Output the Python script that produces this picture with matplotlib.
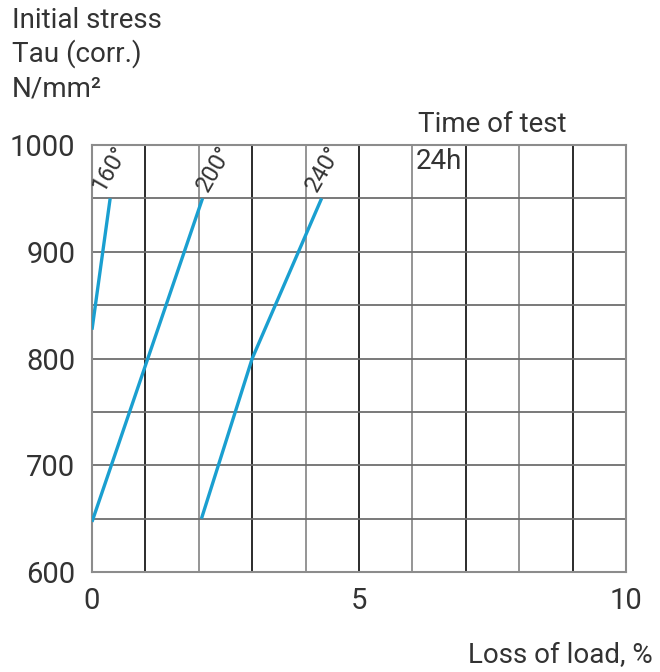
import matplotlib
matplotlib.use("Agg")
import matplotlib.pyplot as plt

plt.rcParams['font.family'] = ['Roboto', 'DejaVu Sans']

# Data
x_160 = [0.0, 0.34]
y_160 = [827, 950]
x_200 = [0.0, 2.07]
y_200 = [647, 950]
x_240 = [2.05, 3.0, 4.3]
y_240 = [650, 800, 950]
series = [("160°", x_160, y_160), ("200°", x_200, y_200), ("240°", x_240, y_240)]
label_pos = {"160°": (0.2, 955), "200°": (2.17, 955), "240°": (4.21, 955)}

x_ticks = [0, 5, 10]
y_ticks = [600, 700, 800, 900, 1000]

TXT = '#333333'
BLUE = '#1a9fd0'

fig = plt.figure(figsize=(6.6, 6.72), dpi=100)
ax = fig.add_axes([0.1394, 0.1488, 0.809, 0.6354])
ax.set_xlim(0, 10)
ax.set_ylim(600, 1000)

# grid
for xv in range(1, 10):
    col = '#1a1a1a' if xv % 2 == 1 else '#8c8c8c'
    ax.axvline(xv, color=col, lw=1.3, zorder=1)
for yv in range(650, 1000, 50):
    ax.axhline(yv, color='#6e6e6e', lw=1.3, zorder=1)
for s in ax.spines.values():
    s.set_color('#8c8c8c')
    s.set_linewidth(1.5)

for name, xs, ys in series:
    ax.plot(xs, ys, color=BLUE, lw=2.4, zorder=3, solid_capstyle='butt')
    lx, ly = label_pos[name]
    ax.text(lx, ly, name, rotation=60, rotation_mode='anchor', ha='left', va='baseline',
            fontsize=17, color=TXT, zorder=4)

ax.set_xticks(x_ticks)
ax.set_yticks(y_ticks)
ax.tick_params(length=0, labelsize=21, colors=TXT, pad=12)
ax.tick_params(axis='x', pad=11)

ax.text(6.1, 1012, "Time of test", fontsize=20, color=TXT, ha='left', va='baseline')
ax.text(6.07, 978, "24h", fontsize=20, color=TXT, ha='left', va='baseline')

fig.text(12/660, 1 - 28/672, "Initial stress", fontsize=20, color=TXT, ha='left', va='baseline')
fig.text(12/660, 1 - 62/672, "Tau (corr.)", fontsize=20, color=TXT, ha='left', va='baseline')
fig.text(12/660, 1 - 96/672, "N/mm²", fontsize=20, color=TXT, ha='left', va='baseline')
fig.text(653/660, 1 - 663/672, "Loss of load, %", fontsize=20, color=TXT, ha='right', va='baseline')

fig.savefig("out.png", dpi=100)
